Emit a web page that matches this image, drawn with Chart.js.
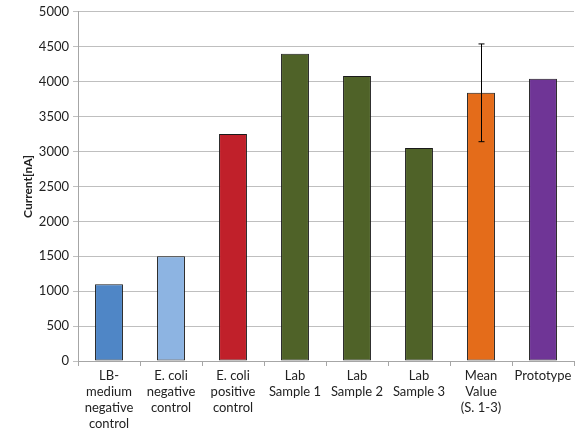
<!DOCTYPE html>
<html>
<head>
<meta charset="utf-8">
<script src="https://cdn.jsdelivr.net/npm/chart.js@4"></script>
<style>
  html, body { margin: 0; padding: 0; background: #fff; }
  #wrap { width: 582px; height: 433px; }
</style>
</head>
<body>
<div id="wrap"><canvas id="chart"></canvas></div>
<script>
// category labels (multi line, like the original)
const categories = [
  ['LB-', 'medium', 'negative', 'control'],
  ['E. coli', 'negative', 'control'],
  ['E. coli', 'positive', 'control'],
  ['Lab', 'Sample 1'],
  ['Lab', 'Sample 2'],
  ['Lab', 'Sample 3'],
  ['Mean', 'Value', '(S. 1-3)'],
  ['Prototype']
];
const currentValues = [1100, 1500, 3250, 4400, 4080, 3050, 3840, 4040];
// error only on the mean bar
const errorValues = [null, null, null, null, null, null, 700, null];
const barColors = ['#4f86c6', '#8db4e2', '#c0202a', '#4f6228', '#4f6228', '#4f6228', '#e46c1a', '#6f3596'];
const yTicks = [0, 500, 1000, 1500, 2000, 2500, 3000, 3500, 4000, 4500, 5000];

const fontFam = 'Lato, "Open Sans", sans-serif';

// draws the error whiskers via the scales
const errorBarPlugin = {
  id: 'errorBars',
  afterDatasetsDraw(chart) {
    const ctx = chart.ctx;
    const xs = chart.scales.x, ys = chart.scales.y;
    ctx.save();
    ctx.strokeStyle = '#000';
    ctx.lineWidth = 1;
    errorValues.forEach((e, i) => {
      if (e == null) return;
      const x = Math.round(xs.getPixelForValue(i)) + 0.5;
      const top = ys.getPixelForValue(currentValues[i] + e);
      const bot = ys.getPixelForValue(currentValues[i] - e);
      ctx.beginPath();
      ctx.moveTo(x, top); ctx.lineTo(x, bot);
      ctx.moveTo(x - 3, top); ctx.lineTo(x + 3, top);
      ctx.moveTo(x - 3, bot); ctx.lineTo(x + 3, bot);
      ctx.stroke();
    });
    ctx.restore();
  }
};

new Chart(document.getElementById('chart'), {
  type: 'bar',
  data: {
    labels: categories,
    datasets: [{
      data: currentValues,
      backgroundColor: barColors,
      borderColor: '#1a1a1a',
      borderWidth: 1,
      borderSkipped: false,
      categoryPercentage: 1,
      barPercentage: 0.45
    }]
  },
  options: {
    responsive: true,
    maintainAspectRatio: false,
    animation: false,
    layout: { padding: { top: 5, right: 8, left: 21, bottom: 0 } },
    plugins: {
      legend: { display: false },
      tooltip: { enabled: false }
    },
    scales: {
      x: {
        offset: true,
        grid: {
          offset: true,
          drawOnChartArea: false,
          color: '#a6a6a6',
          tickLength: 5
        },
        border: { color: '#a6a6a6' },
        ticks: {
          color: '#222',
          font: { family: fontFam, size: 13, lineHeight: 1.22 },
          maxRotation: 0,
          autoSkip: false,
          padding: 2
        },
        afterFit(scale) { scale.height = 72; }
      },
      y: {
        min: 0,
        max: 5000,
        afterBuildTicks(scale) { scale.ticks = yTicks.map(v => ({ value: v })); },
        grid: { color: '#bfbfbf', tickLength: 5 },
        border: { color: '#a6a6a6' },
        ticks: {
          color: '#222',
          font: { family: fontFam, size: 13 },
          padding: 4,
          callback: v => String(v)
        },
        title: {
          display: true,
          text: 'Current[nA]',
          color: '#222',
          font: { family: fontFam, size: 12, weight: 'bold' },
          padding: 0
        },
        afterFit(scale) { scale.width = 57; }
      }
    }
  },
  plugins: [errorBarPlugin]
});
</script>
</body>
</html>
